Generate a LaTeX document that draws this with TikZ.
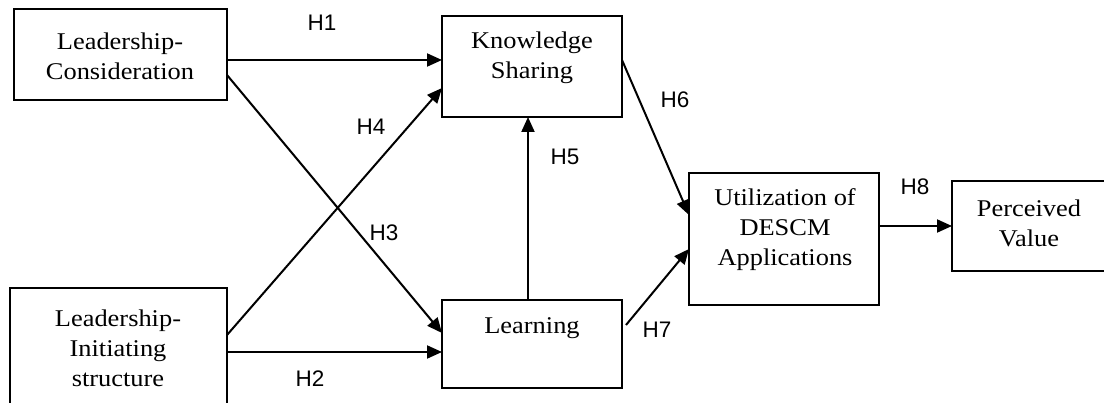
\documentclass[tikz,border=0pt]{standalone}
\usepackage{fontspec}
\setmainfont{Liberation Serif}[FakeStretch=1.1]
\newfontfamily\lblfont{Liberation Sans}
\usetikzlibrary{arrows.meta}
\tikzset{
  x=1pt, y=-1pt,
  box/.style={draw, line width=2pt, rectangle, inner sep=0pt, outer sep=0pt},
  boxtext/.style={align=center, inner sep=0pt, font=\fontsize{24}{30}\selectfont},
  lbl/.style={inner sep=0pt, text depth=0pt, font=\lblfont\fontsize{22.5}{26}\selectfont},
  arr/.style={line width=2pt, -{Triangle[length=15pt,width=13pt]}}
}
\begin{document}
\begin{tikzpicture}
\useasboundingbox (0,0) rectangle (1104,403);
\clip (0,0) rectangle (1104,403);
% boxes
\node[box, minimum width=213pt, minimum height=91pt] (lc) at (120.5,54.5) {};
\node[box, minimum width=217pt, minimum height=142pt] (li) at (118.5,359) {};
\node[box, minimum width=180pt, minimum height=101pt] (ks) at (532,66.5) {};
\node[box, minimum width=180pt, minimum height=88pt] (l) at (532,344) {};
\node[box, minimum width=190pt, minimum height=132pt] (u) at (784,239) {};
\node[box, minimum width=154pt, minimum height=90pt] (pv) at (1029,226) {};
% texts
\node[boxtext] (lct) at (120,56) {Leadership-\\Consideration};
\node[boxtext] (lit) at (118,348) {Leadership-\\Initiating\\structure};
\node[boxtext] (kst) at (532,58) {Knowledge\\Sharing};
\node[boxtext] (lt) at (532,328) {Learning};
\node[boxtext] (ut) at (785,230) {Utilization of\\DESCM\\Applications};
\node[boxtext] (pvt) at (1029,223) {Perceived\\Value};
% connectors
\coordinate (h1s) at ([yshift=-5.5pt]lc.east);
\draw[arr] (h1s) -- (ks.west |- h1s);
\draw[arr] ([yshift=-20.5pt]lc.east) -- ([yshift=11pt]l.west);
\draw[arr] ([yshift=24pt]li.east) -- ([yshift=-21.5pt]ks.west);
\coordinate (h2s) at ([yshift=7pt]li.east);
\draw[arr] (h2s) -- (l.west |- h2s);
\draw[arr] ([xshift=-4pt]l.north) -- ([xshift=-4pt]ks.south);
\draw[arr] ([yshift=6.5pt]ks.east) -- ([yshift=24pt]u.west);
\draw[arr] ([xshift=4pt,yshift=19pt]l.east) -- ([yshift=-10pt]u.west);
\coordinate (h8s) at ([yshift=13pt]u.east);
\draw[arr] (h8s) -- (pv.west |- h8s);
% labels
\node[lbl] (H1) at (322,23) {H1};
\node[lbl] (H4) at (371,127) {H4};
\node[lbl] (H3) at (384,233) {H3};
\node[lbl] (H2) at (310,379) {H2};
\node[lbl] (H5) at (565,157) {H5};
\node[lbl] (H6) at (675,100) {H6};
\node[lbl] (H7) at (657,330) {H7};
\node[lbl] (H8) at (915,187) {H8};
\end{tikzpicture}
\end{document}
